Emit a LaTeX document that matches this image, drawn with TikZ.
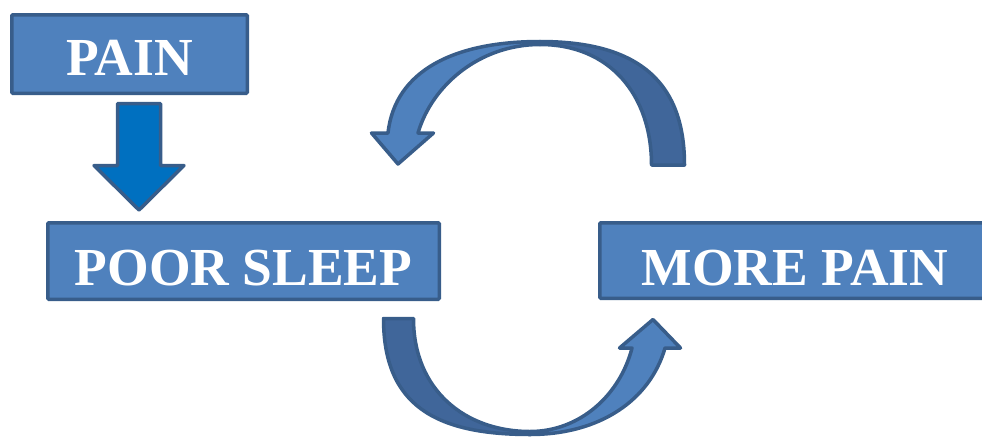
\documentclass[tikz,border=0pt]{standalone}
\usepackage{fontspec}
\setmainfont{Liberation Serif}
\definecolor{boxfill}{HTML}{4F81BD}
\definecolor{edgeblue}{HTML}{385D8A}
\definecolor{downfill}{HTML}{0070C0}
\definecolor{backband}{HTML}{40669A}
\begin{document}
\begin{tikzpicture}[x=1pt,y=-1pt,
  box/.style={draw=edgeblue,fill=boxfill,line width=3.5pt,rounded corners=1pt,
    inner sep=0pt,text=white,font=\fontsize{53.5}{60}\selectfont\bfseries,text depth=0pt},
  blockarrow/.style={draw=edgeblue,line width=3.5pt,line join=round},
  front/.style={blockarrow,fill=boxfill},
  back/.style={blockarrow,fill=backband}]
\useasboundingbox (0,0) rectangle (982,437);
\clip (0,0) rectangle (982,437);
% boxes
\node[box,minimum width=235.5pt,minimum height=78.5pt,text height=42pt] (pain) at (129.5,54) {PAIN};
\node[box,minimum width=391.5pt,minimum height=76.5pt,text height=48pt] (poor) at (243.5,261) {POOR SLEEP};
\node[box,minimum width=390.5pt,minimum height=75.5pt,text height=49pt] (more) at (795,260.5) {MORE PAIN};
% straight down arrow from PAIN to POOR SLEEP
\draw[blockarrow,fill=downfill] (117.5,103.5) -- (160.5,103.5) -- (160.5,165.5) -- (184,165.5)
  -- (139,210) -- (94,165.5) -- (117.5,165.5) -- cycle;
% upper curved arrow (MORE PAIN -> POOR SLEEP)
\draw[back] (684.5,165) .. controls (684.5,85) and (642,41.5) .. (540,41.5)
  -- (540,44.5) .. controls (610,44.5) and (651.5,95) .. (651.5,165) -- cycle;
\draw[front] (540,41.5) .. controls (455,41.5) and (395,70) .. (388,133)
  -- (371.5,133) -- (398,164) -- (433.5,133) -- (418,133)
  .. controls (432,85) and (480,44.5) .. (540,44.5) -- cycle;
% lower curved arrow (POOR SLEEP -> MORE PAIN)
\draw[back] (383.5,318.5) .. controls (383.5,405) and (435,434.5) .. (530,434.5)
  -- (530,431.5) .. controls (465,431.5) and (413.5,390) .. (413.5,318.5) -- cycle;
\draw[front] (530,434.5) .. controls (600,434.5) and (650,400) .. (665,348)
  -- (680.5,348) -- (653,319.5) -- (619.5,348) -- (632,348)
  .. controls (620,395) and (580,431.5) .. (530,431.5) -- cycle;
\end{tikzpicture}
\end{document}
